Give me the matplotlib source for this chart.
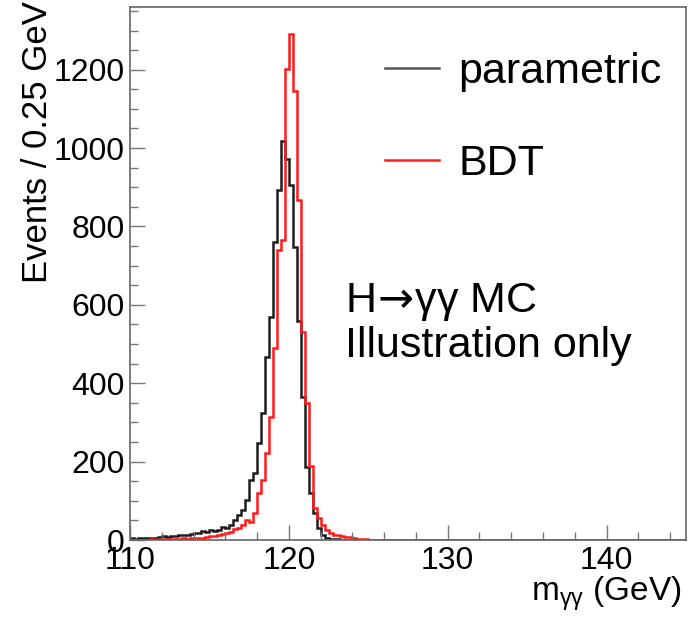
import numpy as np
import matplotlib
matplotlib.use("Agg")
import matplotlib.pyplot as plt

plt.rcParams['font.family'] = ['Liberation Sans', 'DejaVu Sans']
plt.rcParams['mathtext.fontset'] = 'dejavusans'

# ---- data (0.25 GeV bins starting at 110 GeV) ----
bin_start = 110.0
bin_width = 0.25
n_bins = 140  # 110 -> 145 GeV

parametric_counts = [
    4, 3, 5, 4,          # 110-111
    5, 6, 5, 8,          # 111-112
    9, 8, 11, 10,        # 112-113
    12, 14, 13, 16,      # 113-114
    19, 17, 22, 20,      # 114-115
    25, 22, 25, 32,      # 115-116
    30, 38, 51, 64,      # 116-117
    77, 102, 153, 170,   # 117-118
    247, 323, 468, 570,  # 118-119
    761, 893, 1018, 973, # 119-120
    906, 748, 560, 366,  # 120-121
    187, 120, 68, 30,    # 121-122
    12, 6, 3, 2,         # 122-123
    2, 1, 1, 1,          # 123-124
    1, 0, 1, 0,          # 124-125
    0, 0, 0, 0,          # 125-126
]
bdt_counts = [
    1, 1, 0, 1,
    1, 2, 1, 2,
    2, 2, 3, 2,
    3, 4, 3, 4,
    5, 4, 6, 7,
    9, 11, 13, 15,
    18, 21, 27, 30,
    38, 50, 47, 68,
    119, 153, 221, 315,
    489, 740, 765, 1201,
    1292, 1145, 867, 530,
    350, 190, 82, 55,
    38, 25, 17, 12,
    12, 10, 8, 7,
    5, 3, 2, 2,
    1, 1, 0, 1,
]
series_labels = ["parametric", "BDT"]
series_colors = ["#1e1e1e", "#ff1a1a"]
x_ticks = [110, 120, 130, 140]
y_ticks = [0, 200, 400, 600, 800, 1000, 1200]

edges = bin_start + bin_width * np.arange(n_bins + 1)

def full(vals):
    arr = np.zeros(n_bins)
    arr[:len(vals)] = vals
    return arr

W, H = 695, 623
fig = plt.figure(figsize=(W / 100, H / 100), dpi=100)
ax_l, ax_r, ax_t, ax_b = 130, 686, 7, 540
ax = fig.add_axes([ax_l / W, 1 - ax_b / H, (ax_r - ax_l) / W, (ax_b - ax_t) / H])

for vals, lab, col in zip([parametric_counts, bdt_counts], series_labels, series_colors):
    ax.stairs(full(vals), edges, color=col, lw=1.8, label=lab, baseline=None)

ax.set_xlim(110, 145)
ax.set_ylim(0, 1360)
ax.set_xticks(x_ticks)
ax.set_yticks(y_ticks)
ax.set_xticks(np.arange(110, 146, 2), minor=True)
ax.set_yticks(np.arange(0, 1360, 50), minor=True)
ax.tick_params(axis='both', which='major', direction='in', length=11, width=1.0,
               color='#777777', labelsize=23, top=False, right=False)
ax.tick_params(axis='both', which='minor', direction='in', length=5.5, width=1.0,
               color='#777777', top=False, right=False)
ax.tick_params(axis='x', which='major', pad=4)
ax.tick_params(axis='y', which='major', pad=4)
for s in ax.spines.values():
    s.set_color('#666666')
    s.set_linewidth(1.2)

leg = ax.legend(loc='upper left', bbox_to_anchor=((385 - ax_l) / (ax_r - ax_l), 0.915),
                frameon=False, fontsize=31, handlelength=1.25, handletextpad=0.45,
                labelspacing=1.2, borderpad=0, borderaxespad=0)
leg.get_lines()[0].set_color('#555555')

ax.text((345 - ax_l) / (ax_r - ax_l), (ax_b - 312) / (ax_b - ax_t),
        r"H$\!\rightarrow\!$γγ MC",
        transform=ax.transAxes, fontsize=31, va='baseline', ha='left')
ax.text((345 - ax_l) / (ax_r - ax_l), (ax_b - 357) / (ax_b - ax_t), "Illustration only",
        transform=ax.transAxes, fontsize=31, va='baseline', ha='left')

fig.text(682 / W, 1 - 600 / H, r"m$_{\mathregular{\gamma\gamma}}$ (GeV)", fontsize=24,
         ha='right', va='baseline')
fig.text(38 / W, 1 - 1 / H, "Events / 0.25 GeV", fontsize=25, rotation=90,
         ha='center', va='top')

fig.savefig("out.png", dpi=100)
